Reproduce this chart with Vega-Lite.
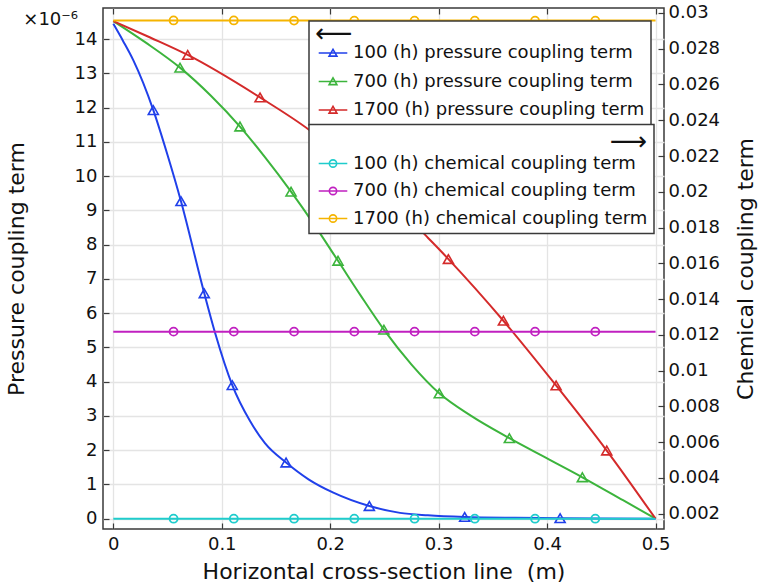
{
  "$schema": "https://vega.github.io/schema/vega-lite/v6.json",
  "width": 561,
  "height": 521,
  "autosize": {"type": "none"},
  "padding": {"left": 103, "top": 8, "right": 101, "bottom": 56},
  "background": "white",
  "title": {"text": "×10⁻⁶", "anchor": "start", "frame": "group", "align": "right", "dx": -25, "dy": 39, "offset": 0, "baseline": "alphabetic", "fontSize": 18, "font": "DejaVu Sans", "fontWeight": "normal", "color": "#111"},
  "config": {
    "font": "DejaVu Sans",
    "view": {"stroke": "#3a3a3a", "strokeWidth": 1.5},
    "axis": {"labelFont": "DejaVu Sans", "labelFontSize": 18, "labelColor": "#111", "titleFont": "DejaVu Sans", "titleFontSize": 22, "titleFontWeight": "normal", "titleColor": "#111", "domain": false, "tickColor": "#3a3a3a", "tickWidth": 1.2, "gridColor": "#e4e4e4", "gridWidth": 1.3}
  },
  "datasets": {
    "pressure": [
      {"series": "100 (h) pressure coupling term", "x": 0, "v": 14.45, "m": 0},
      {"series": "100 (h) pressure coupling term", "x": 0.009, "v": 13.95, "m": 0},
      {"series": "100 (h) pressure coupling term", "x": 0.0184, "v": 13.39, "m": 0},
      {"series": "100 (h) pressure coupling term", "x": 0.0369, "v": 11.93, "m": 1},
      {"series": "100 (h) pressure coupling term", "x": 0.05, "v": 10.62, "m": 0},
      {"series": "100 (h) pressure coupling term", "x": 0.0624, "v": 9.27, "m": 1},
      {"series": "100 (h) pressure coupling term", "x": 0.0839, "v": 6.58, "m": 1},
      {"series": "100 (h) pressure coupling term", "x": 0.0941, "v": 5.4, "m": 0},
      {"series": "100 (h) pressure coupling term", "x": 0.1097, "v": 3.9, "m": 1},
      {"series": "100 (h) pressure coupling term", "x": 0.1261, "v": 2.85, "m": 0},
      {"series": "100 (h) pressure coupling term", "x": 0.14, "v": 2.2, "m": 0},
      {"series": "100 (h) pressure coupling term", "x": 0.1593, "v": 1.64, "m": 1},
      {"series": "100 (h) pressure coupling term", "x": 0.18, "v": 1.15, "m": 0},
      {"series": "100 (h) pressure coupling term", "x": 0.2029, "v": 0.76, "m": 0},
      {"series": "100 (h) pressure coupling term", "x": 0.2361, "v": 0.37, "m": 1},
      {"series": "100 (h) pressure coupling term", "x": 0.2644, "v": 0.17, "m": 0},
      {"series": "100 (h) pressure coupling term", "x": 0.29, "v": 0.1, "m": 0},
      {"series": "100 (h) pressure coupling term", "x": 0.324, "v": 0.05, "m": 1},
      {"series": "100 (h) pressure coupling term", "x": 0.37, "v": 0.025, "m": 0},
      {"series": "100 (h) pressure coupling term", "x": 0.412, "v": 0.015, "m": 1},
      {"series": "100 (h) pressure coupling term", "x": 0.5, "v": 0, "m": 0},
      {"series": "700 (h) pressure coupling term", "x": 0, "v": 14.53, "m": 0},
      {"series": "700 (h) pressure coupling term", "x": 0.03, "v": 13.9, "m": 0},
      {"series": "700 (h) pressure coupling term", "x": 0.0615, "v": 13.17, "m": 1},
      {"series": "700 (h) pressure coupling term", "x": 0.09, "v": 12.35, "m": 0},
      {"series": "700 (h) pressure coupling term", "x": 0.1168, "v": 11.45, "m": 1},
      {"series": "700 (h) pressure coupling term", "x": 0.14, "v": 10.55, "m": 0},
      {"series": "700 (h) pressure coupling term", "x": 0.1639, "v": 9.55, "m": 1},
      {"series": "700 (h) pressure coupling term", "x": 0.186, "v": 8.55, "m": 0},
      {"series": "700 (h) pressure coupling term", "x": 0.2072, "v": 7.53, "m": 1},
      {"series": "700 (h) pressure coupling term", "x": 0.228, "v": 6.52, "m": 0},
      {"series": "700 (h) pressure coupling term", "x": 0.2495, "v": 5.52, "m": 1},
      {"series": "700 (h) pressure coupling term", "x": 0.275, "v": 4.5, "m": 0},
      {"series": "700 (h) pressure coupling term", "x": 0.3006, "v": 3.66, "m": 1},
      {"series": "700 (h) pressure coupling term", "x": 0.33, "v": 3.0, "m": 0},
      {"series": "700 (h) pressure coupling term", "x": 0.3652, "v": 2.35, "m": 1},
      {"series": "700 (h) pressure coupling term", "x": 0.4, "v": 1.76, "m": 0},
      {"series": "700 (h) pressure coupling term", "x": 0.4325, "v": 1.21, "m": 1},
      {"series": "700 (h) pressure coupling term", "x": 0.47, "v": 0.54, "m": 0},
      {"series": "700 (h) pressure coupling term", "x": 0.5, "v": 0, "m": 0},
      {"series": "1700 (h) pressure coupling term", "x": 0, "v": 14.53, "m": 0},
      {"series": "1700 (h) pressure coupling term", "x": 0.034, "v": 14.05, "m": 0},
      {"series": "1700 (h) pressure coupling term", "x": 0.0686, "v": 13.54, "m": 1},
      {"series": "1700 (h) pressure coupling term", "x": 0.1353, "v": 12.3, "m": 1},
      {"series": "1700 (h) pressure coupling term", "x": 0.1807, "v": 11.35, "m": 0},
      {"series": "1700 (h) pressure coupling term", "x": 0.193, "v": 11.05, "m": 1},
      {"series": "1700 (h) pressure coupling term", "x": 0.235, "v": 9.95, "m": 0},
      {"series": "1700 (h) pressure coupling term", "x": 0.251, "v": 9.47, "m": 1},
      {"series": "1700 (h) pressure coupling term", "x": 0.2905, "v": 8.19, "m": 0},
      {"series": "1700 (h) pressure coupling term", "x": 0.309, "v": 7.58, "m": 1},
      {"series": "1700 (h) pressure coupling term", "x": 0.3597, "v": 5.78, "m": 1},
      {"series": "1700 (h) pressure coupling term", "x": 0.4083, "v": 3.89, "m": 1},
      {"series": "1700 (h) pressure coupling term", "x": 0.455, "v": 1.99, "m": 1},
      {"series": "1700 (h) pressure coupling term", "x": 0.5, "v": 0, "m": 0}
    ],
    "chemical": [
      {"curve": "100 (h) chemical coupling term", "x": 0, "c": 0.00172, "m": 0},
      {"curve": "100 (h) chemical coupling term", "x": 0.05556, "c": 0.00172, "m": 1},
      {"curve": "100 (h) chemical coupling term", "x": 0.11111, "c": 0.00172, "m": 1},
      {"curve": "100 (h) chemical coupling term", "x": 0.16667, "c": 0.00172, "m": 1},
      {"curve": "100 (h) chemical coupling term", "x": 0.22222, "c": 0.00172, "m": 1},
      {"curve": "100 (h) chemical coupling term", "x": 0.27778, "c": 0.00172, "m": 1},
      {"curve": "100 (h) chemical coupling term", "x": 0.33333, "c": 0.00172, "m": 1},
      {"curve": "100 (h) chemical coupling term", "x": 0.38889, "c": 0.00172, "m": 1},
      {"curve": "100 (h) chemical coupling term", "x": 0.44444, "c": 0.00172, "m": 1},
      {"curve": "100 (h) chemical coupling term", "x": 0.5, "c": 0.00172, "m": 0},
      {"curve": "700 (h) chemical coupling term", "x": 0, "c": 0.01218, "m": 0},
      {"curve": "700 (h) chemical coupling term", "x": 0.05556, "c": 0.01218, "m": 1},
      {"curve": "700 (h) chemical coupling term", "x": 0.11111, "c": 0.01218, "m": 1},
      {"curve": "700 (h) chemical coupling term", "x": 0.16667, "c": 0.01218, "m": 1},
      {"curve": "700 (h) chemical coupling term", "x": 0.22222, "c": 0.01218, "m": 1},
      {"curve": "700 (h) chemical coupling term", "x": 0.27778, "c": 0.01218, "m": 1},
      {"curve": "700 (h) chemical coupling term", "x": 0.33333, "c": 0.01218, "m": 1},
      {"curve": "700 (h) chemical coupling term", "x": 0.38889, "c": 0.01218, "m": 1},
      {"curve": "700 (h) chemical coupling term", "x": 0.44444, "c": 0.01218, "m": 1},
      {"curve": "700 (h) chemical coupling term", "x": 0.5, "c": 0.01218, "m": 0},
      {"curve": "1700 (h) chemical coupling term", "x": 0, "c": 0.02958, "m": 0},
      {"curve": "1700 (h) chemical coupling term", "x": 0.05556, "c": 0.02958, "m": 1},
      {"curve": "1700 (h) chemical coupling term", "x": 0.11111, "c": 0.02958, "m": 1},
      {"curve": "1700 (h) chemical coupling term", "x": 0.16667, "c": 0.02957, "m": 1},
      {"curve": "1700 (h) chemical coupling term", "x": 0.22222, "c": 0.02957, "m": 1},
      {"curve": "1700 (h) chemical coupling term", "x": 0.27778, "c": 0.02957, "m": 1},
      {"curve": "1700 (h) chemical coupling term", "x": 0.33333, "c": 0.02957, "m": 1},
      {"curve": "1700 (h) chemical coupling term", "x": 0.38889, "c": 0.02957, "m": 1},
      {"curve": "1700 (h) chemical coupling term", "x": 0.44444, "c": 0.02957, "m": 1},
      {"curve": "1700 (h) chemical coupling term", "x": 0.5, "c": 0.02957, "m": 0}
    ]
  },
  "layer": [
    {
      "data": {"name": "pressure"},
      "encoding": {
        "x": {
          "field": "x", "type": "quantitative",
          "scale": {"domain": [-0.0095, 0.5078], "nice": false, "zero": false},
          "axis": {"orient": "bottom", "title": "Horizontal cross-section line\u00a0 (m)", "values": [0, 0.1, 0.2, 0.3, 0.4, 0.5], "format": "~g", "tickSize": -6, "labelPadding": 12, "titlePadding": 8, "grid": true}
        },
        "y": {
          "field": "v", "type": "quantitative",
          "scale": {"domain": [-0.3007, 14.911], "nice": false, "zero": false},
          "axis": {"title": "Pressure coupling term", "orient": "left", "values": [0, 1, 2, 3, 4, 5, 6, 7, 8, 9, 10, 11, 12, 13, 14], "tickSize": -6, "labelPadding": 12, "titlePadding": 46, "grid": true}
        },
        "color": {
          "field": "series", "type": "nominal",
          "scale": {"domain": ["100 (h) pressure coupling term", "700 (h) pressure coupling term", "1700 (h) pressure coupling term"], "range": ["#2040ea", "#3cb43c", "#d42a2a"]},
          "legend": {
            "orient": "none", "legendX": 206, "legendY": 13,
            "title": "⟵", "titleFontSize": 26, "titleFontWeight": "normal", "titleFont": "DejaVu Sans", "titleColor": "#111", "titlePadding": -14, "titleAnchor": "start", "titleBaseline": "line-top", "titleLineHeight": 14,
            "labelFontSize": 18, "labelFont": "DejaVu Sans", "labelColor": "#111", "labelLimit": 400, "labelOffset": 6,
            "symbolType": "M-1.1,0H1.1M-0.3,0.24L0,-0.28L0.3,0.24Z", "symbolSize": 676, "symbolStrokeWidth": 1.6, "symbolOffset": 4,
            "padding": 6, "rowPadding": 5.5,
            "fillColor": "white", "strokeColor": "#3a3a3a",
            "encode": {
              "symbols": {"update": {"fill": {"value": "transparent"}, "shape": {"value": "M-1.1,0H1.1M-0.3,0.24L0,-0.28L0.3,0.24Z"}, "size": {"value": 676}, "strokeWidth": {"value": 1.6}, "opacity": {"value": 1}}},
              "legend": {"update": {"stroke": {"value": "#3a3a3a"}, "strokeWidth": {"value": 1.5}, "fill": {"value": "white"}}}
            }
          }
        }
      },
      "layer": [
        {"mark": {"type": "line", "strokeWidth": 2, "interpolate": "monotone"}},
        {"transform": [{"filter": "datum.m == 1"}], "mark": {"type": "point", "shape": "triangle-up", "filled": false, "size": 100, "strokeWidth": 1.6, "opacity": 1}}
      ]
    },
    {
      "data": {"name": "chemical"},
      "encoding": {
        "x": {
          "field": "x", "type": "quantitative",
          "scale": {"domain": [-0.0095, 0.5078], "nice": false, "zero": false},
          "axis": {"orient": "top", "title": null, "values": [0, 0.1, 0.2, 0.3, 0.4, 0.5], "labels": false, "tickSize": -6, "grid": false}
        },
        "y": {
          "field": "c", "type": "quantitative",
          "scale": {"domain": [0.001145, 0.030275], "nice": false, "zero": false},
          "axis": {"title": "Chemical coupling term", "orient": "right", "titleAngle": 270, "values": [0.002, 0.004, 0.006, 0.008, 0.01, 0.012, 0.014, 0.016, 0.018, 0.02, 0.022, 0.024, 0.026, 0.028, 0.03], "format": "~g", "tickSize": -6, "labelPadding": 10, "titlePadding": 38, "grid": false}
        },
        "stroke": {
          "field": "curve", "type": "nominal",
          "scale": {"domain": ["100 (h) chemical coupling term", "700 (h) chemical coupling term", "1700 (h) chemical coupling term"], "range": ["#1fcccc", "#c020c0", "#f5b400"]},
          "legend": {
            "orient": "none", "legendX": 206, "legendY": 116.5,
            "title": "⟶", "titleFontSize": 26, "titleFontWeight": "normal", "titleFont": "DejaVu Sans", "titleColor": "#111", "titlePadding": -7, "titleAnchor": "end", "titleBaseline": "line-top", "titleLineHeight": 22,
            "labelFontSize": 18, "labelFont": "DejaVu Sans", "labelColor": "#111", "labelLimit": 400, "labelOffset": 6,
            "symbolType": "M-1.1,0H1.1M0.28,0A0.28,0.28 0 1,1 -0.28,0A0.28,0.28 0 1,1 0.28,0", "symbolSize": 676, "symbolStrokeWidth": 1.6, "symbolOffset": 4,
            "padding": 6, "rowPadding": 4.5,
            "fillColor": "white", "strokeColor": "#3a3a3a",
            "encode": {
              "symbols": {"update": {"fill": {"value": "transparent"}, "shape": {"value": "M-1.1,0H1.1M0.28,0A0.28,0.28 0 1,1 -0.28,0A0.28,0.28 0 1,1 0.28,0"}, "size": {"value": 676}, "strokeWidth": {"value": 1.6}, "opacity": {"value": 1}}},
              "legend": {"update": {"stroke": {"value": "#3a3a3a"}, "strokeWidth": {"value": 1.5}, "fill": {"value": "white"}}}
            }
          }
        }
      },
      "layer": [
        {"mark": {"type": "line", "strokeWidth": 2}},
        {"transform": [{"filter": "datum.m == 1"}], "mark": {"type": "point", "shape": "circle", "filled": false, "size": 64, "strokeWidth": 1.8, "opacity": 1}}
      ]
    }
  ],
  "resolve": {"scale": {"y": "independent"}}
}
